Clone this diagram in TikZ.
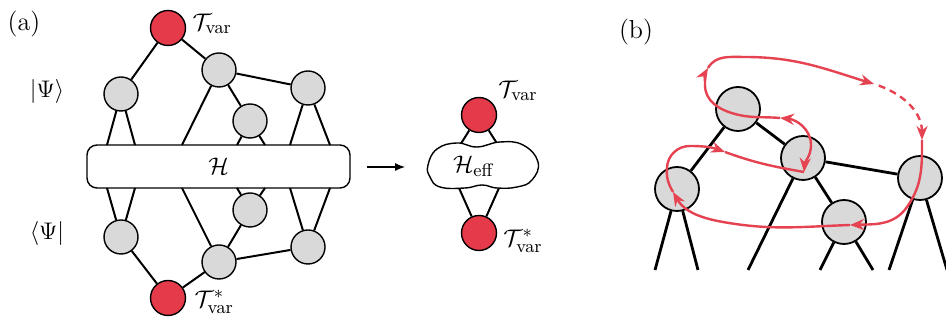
\documentclass[tikz,border=0pt]{standalone}
\usepackage{amsmath,amssymb}
\usepackage{tikz}
\usetikzlibrary{arrows.meta, positioning}

\definecolor{tnred}{RGB}{228,58,74}
\definecolor{tourred}{RGB}{229,66,82}
\definecolor{sitegray}{RGB}{217,217,217}

\begin{document}
\begin{tikzpicture}[
  x=0.5pt, y=0.5pt,
  site/.style={circle, draw, line width=0.7pt, fill=sitegray, minimum size=17pt, inner sep=0pt},
  tsite/.style={site, fill=tnred, minimum size=17.5pt},
  bsite/.style={site, minimum size=22pt, line width=0.9pt},
  bond/.style={line width=1pt},
  bbond/.style={line width=1.4pt},
  tourline/.style={draw=tourred, line width=1.2pt},
  tour/.style={tourline, -{Stealth[length=7pt, width=5.5pt]}},
  lab/.style={font=\fontsize{13}{15}\selectfont, inner sep=2pt}
]
\useasboundingbox (0,0) rectangle (946,325);

% (a): full network
\node[lab] (la)  at (24,301) {(a)};
\node[lab] (ket) at (47,233) {$|\Psi\rangle$};
\node[lab] (bra) at (47,91)  {$\langle\Psi|$};

\node[draw, line width=0.7pt, rounded corners=5pt, fill=white, minimum width=131.5pt,
  minimum height=21.5pt, font=\fontsize{13}{15}\selectfont] (H) at (218.5,158.5) {$\mathcal{H}$};

\node[tsite] (rt) at (168,297) {};
\node[site]  (g1) at (121,231) {};
\node[site]  (g2) at (219,255) {};
\node[site]  (g3) at (308,237) {};
\node[site]  (g4) at (250,204) {};
\node[site]  (g5) at (250,115) {};
\node[site]  (g6) at (121,88)  {};
\node[site]  (g7) at (308,78)  {};
\node[site]  (g8) at (219,63)  {};
\node[tsite] (rb) at (168,27)  {};

\node[lab, right=1pt of rt, yshift=2pt]  (lt) {$\mathcal{T}_{\mathrm{var}}$};
\node[lab, right=2pt of rb, yshift=-2pt] (lb) {$\mathcal{T}^{*}_{\mathrm{var}}$};

\foreach \x [count=\i] in {107,135,182,237,265,290,330} {
  \coordinate (ht\i) at (\x,180);
  \coordinate (hb\i) at (\x,137);
}

\draw[bond] (rt) -- (g1) (rt) -- (g2) (g2) -- (g3) (g2) -- (g4) (g2) -- (ht3)
  (g1) -- (ht1) (g1) -- (ht2) (g4) -- (ht4) (g4) -- (ht5) (g3) -- (ht6) (g3) -- (ht7);
\draw[bond] (rb) -- (g6) (rb) -- (g8) (g8) -- (g7) (g8) -- (g5) (g8) -- (hb3)
  (g6) -- (hb1) (g6) -- (hb2) (g5) -- (hb4) (g5) -- (hb5) (g7) -- (hb6) (g7) -- (hb7);

\coordinate (a1) at (367,158);
\coordinate (a2) at (405,158);
\draw[-{Latex[length=5pt, width=4pt]}, line width=0.6pt] (a1) -- (a2);

% effective Hamiltonian
\node[tsite] (rt2) at (479,210) {};
\node[tsite] (rb2) at (479,92)  {};
\coordinate (e1) at (455,172);
\coordinate (e2) at (503,172);
\coordinate (e3) at (455,146);
\coordinate (e4) at (503,146);
\draw[bond] (rt2) -- (e1) (rt2) -- (e2) (rb2) -- (e3) (rb2) -- (e4);
\draw[line width=0.7pt, fill=white] plot[smooth cycle, tension=0.75] coordinates {
  (428,160) (437,176) (457,182) (477,178) (500,183) (523,180) (538,163)
  (532,145) (517,138) (497,137) (482,140) (465,137) (440,138) (430,148)};
\node[font=\fontsize{13}{15}\selectfont] (heff) at (474,159) {$\mathcal{H}_{\mathrm{eff}}$};
\node[lab, anchor=west] (lt2) at (494,234) {$\mathcal{T}_{\mathrm{var}}$};
\node[lab, anchor=west] (lb2) at (499,84)  {$\mathcal{T}^{*}_{\mathrm{var}}$};

% (b): sweep through a tree
\node[lab] (lbb) at (636,293) {(b)};

\node[bsite] (A) at (738,216) {};
\node[bsite] (B) at (803,167) {};
\node[bsite] (C) at (677,136) {};
\node[bsite] (D) at (844,103) {};
\node[bsite] (E) at (920,147) {};

\foreach \n/\x in {c1/655, c2/698, b1/748, d1/820, d2/873, f1/889, f2/947}
  \coordinate (\n) at (\x,55);

\draw[bbond] (A) -- (C) (A) -- (B) (B) -- (E) (B) -- (D) (B) -- (b1)
  (C) -- (c1) (C) -- (c2) (D) -- (d1) (D) -- (d2) (E) -- (f1) (E) -- (f2);

\coordinate (t1) at (922,185);
\coordinate (t2) at (850,100);
\coordinate (t3) at (673,133);
\coordinate (t4) at (725,173);
\coordinate (t5) at (804,153);
\coordinate (t6) at (780,207);
\coordinate (t7) at (708,257);
\coordinate (t8) at (874,241);

\draw[tour, dash pattern=on 3.5pt off 2.5pt, dash phase=3.5pt] (t8) to[out=-17, in=90] (t1);
\draw[tour] (t1) to[out=-90, in=55] (907,118) to[out=-125, in=2] (t2);
\draw[tour] (t2) to[out=182, in=-10] (723,103) to[out=170, in=-60] (t3);
\draw[tour] (t3) to[out=120, in=-95] (667,158) to[out=85, in=180] (690,179) to[out=0, in=160] (t4);
\draw[tourline] (t4) to[out=-20, in=170] (t5);
\draw[tourline, {Stealth[length=7pt, width=5.5pt]}-{Stealth[length=7pt, width=5.5pt]}]
  (t5) to[out=85, in=-90] (811,180) to[out=90, in=-5] (t6);
\draw[tour] (t6) to[out=175, in=-15] (735,211) to[out=165, in=-90] (705,240) to[out=90, in=-120] (t7);
\draw[tour] (t7) to[out=60, in=180] (745,268) to[out=0, in=163] (t8);
\end{tikzpicture}
\end{document}
